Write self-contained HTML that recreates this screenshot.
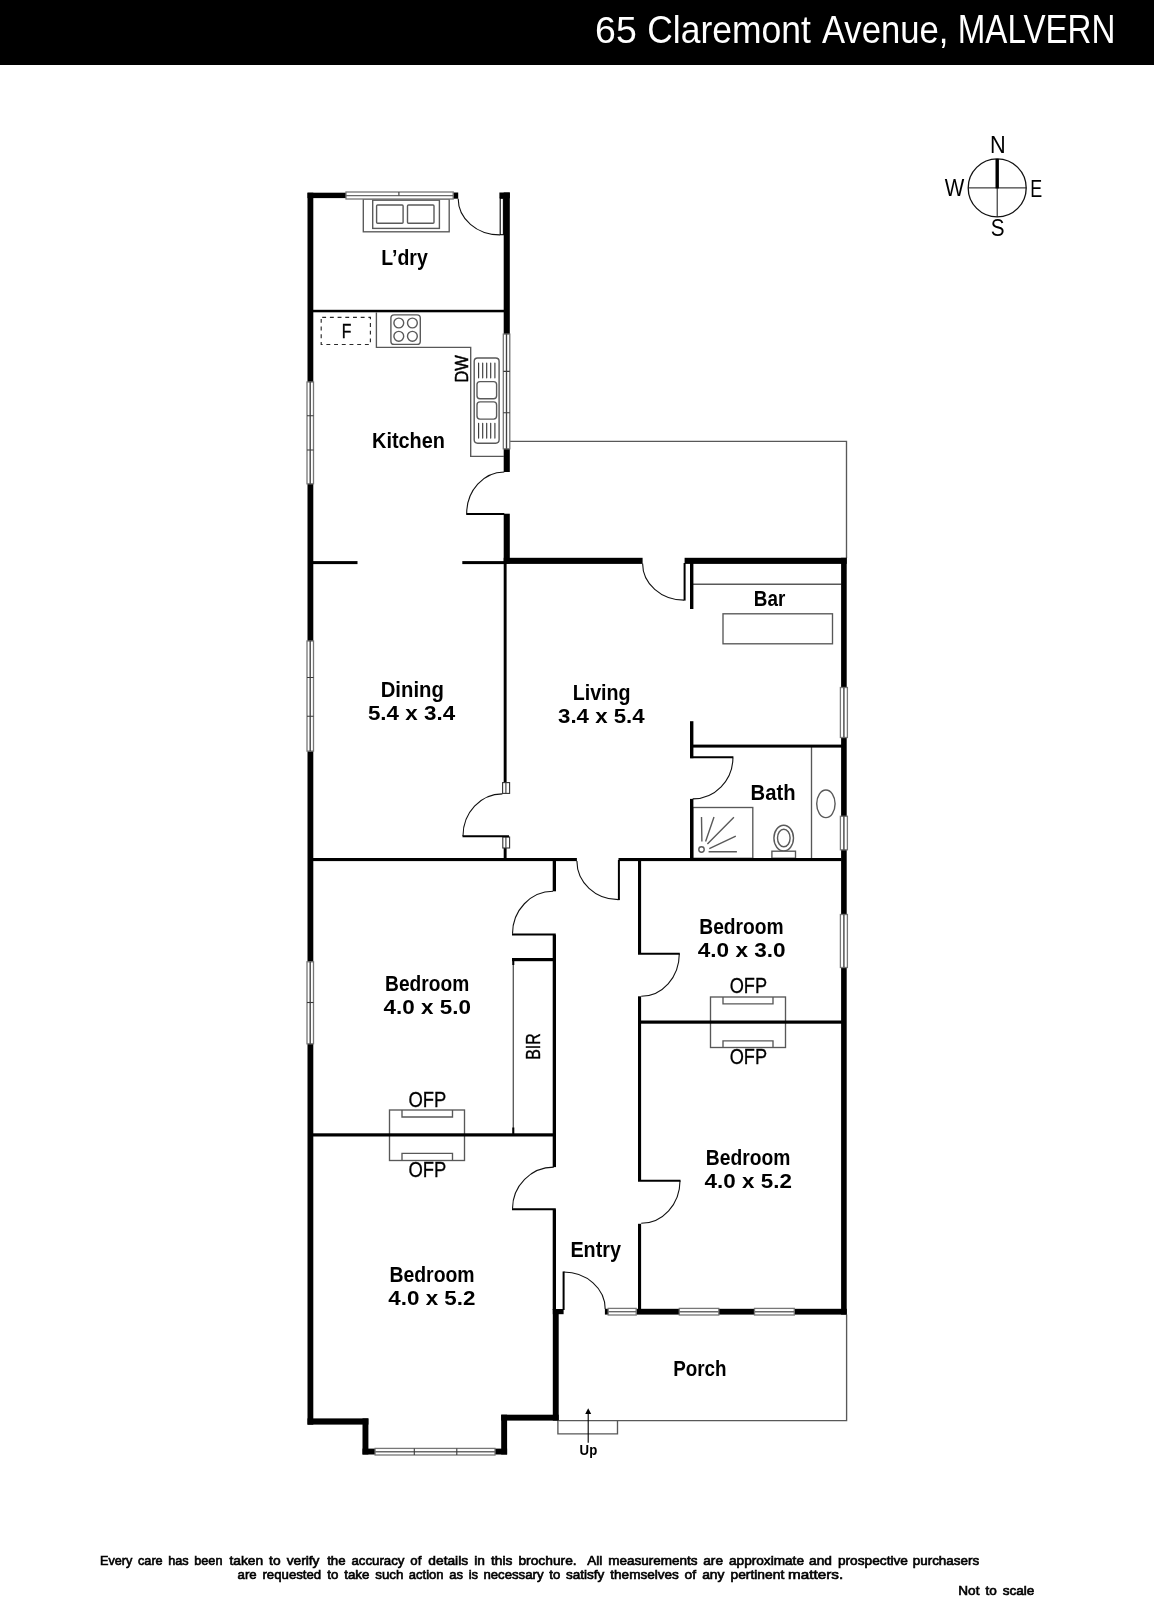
<!DOCTYPE html>
<html>
<head>
<meta charset="utf-8">
<title>65 Claremont Avenue, MALVERN</title>
<style>
html,body{margin:0;padding:0;background:#fff;}
body{width:1154px;height:1600px;overflow:hidden;}
svg{display:block;will-change:transform;}
text{font-family:"Liberation Sans",sans-serif;fill:#000;}
.lbl{font-size:22.4px;font-weight:bold;}
.dim{font-size:22.4px;transform:scaleY(0.9);}
.sm{font-size:22px;stroke:#000;stroke-width:0.3px;}
.hd{fill:#fff;}
.h1{font-size:37.2px;}
.h2{font-size:39.5px;}
.h3{font-size:40.4px;}
.cp{font-size:23.4px;}
.w{fill:#000;}
.t{fill:none;stroke:#585858;stroke-width:1.35;}
.tw{fill:#fff;stroke:#585858;stroke-width:1.35;}
.g{fill:none;stroke:#5a5a5a;stroke-width:1.4;}
.d{fill:none;stroke:#111;stroke-width:1.1;}
.leaf{fill:none;stroke:#000;stroke-width:2;}
.win{fill:#fff;stroke:#777;stroke-width:1.3;}
.wl{fill:none;stroke:#404040;stroke-width:1.35;}
.wlh{stroke:#6a6a6a;}
.wd{fill:none;stroke:#3a3a3a;stroke-width:1.1;}
.ft{font-size:13.6px;stroke:#000;stroke-width:0.65px;word-spacing:2.2px;}
</style>
</head>
<body>
<svg width="1154" height="1600" viewBox="0 0 1154 1600">
<rect x="0" y="0" width="1154" height="1600" fill="#fff"/>

<!-- HEADER -->
<g id="header">
<rect x="0" y="0" width="1154" height="65" fill="#000"/>
<text class="hd h1" x="595.11" y="43.3" textLength="41.67" lengthAdjust="spacingAndGlyphs">65</text>
<text class="hd h2" x="647.23" y="43.3" textLength="163.61" lengthAdjust="spacingAndGlyphs">Claremont</text>
<text class="hd h2" x="821.88" y="43.3" textLength="126.42" lengthAdjust="spacingAndGlyphs">Avenue,</text>
<text class="hd h3" x="957.72" y="43.3" textLength="157.72" lengthAdjust="spacingAndGlyphs">MALVERN</text>
</g>

<!-- COMPASS -->
<g id="compass">
<circle cx="997.2" cy="187.9" r="29" fill="none" stroke="#111" stroke-width="1.3"/>
<line x1="968.2" y1="187.9" x2="1026.2" y2="187.9" stroke="#111" stroke-width="1"/>
<line x1="997.2" y1="187.9" x2="997.2" y2="216.9" stroke="#111" stroke-width="1"/>
<line x1="997.2" y1="158.9" x2="997.2" y2="188.4" stroke="#000" stroke-width="3.4"/>
<text class="cp" x="990.06" y="153.0" textLength="15.68" lengthAdjust="spacingAndGlyphs">N</text>
<text class="cp" x="944.68" y="196.4" textLength="19.54" lengthAdjust="spacingAndGlyphs">W</text>
<text class="cp" x="1030.21" y="196.5" textLength="11.95" lengthAdjust="spacingAndGlyphs">E</text>
<text class="cp" x="990.77" y="236.2" textLength="13.8" lengthAdjust="spacingAndGlyphs">S</text>
</g>

<!-- THIN OUTLINES (patio, porch, step) -->
<g id="outlines" class="t">
<polyline points="509.9,441.4 846.5,441.4 846.5,558"/>
<polyline points="846.6,1314.5 846.6,1420.6 558.7,1420.6"/>
<polyline points="557.9,1420.6 557.9,1433.9 617.5,1433.9 617.5,1420.6"/>
</g>

<!-- BENCHES / FIXTURE OUTLINES -->
<g id="fixtures">
<!-- kitchen bench -->
<polyline class="t" points="376.4,312.6 376.4,347.4 470.7,347.4 470.7,456.4 503.8,456.4"/>
<!-- fridge -->
<rect x="321.2" y="317.3" width="49.2" height="27.2" style="fill:none;stroke:#2a2a2a;stroke-width:1.15;stroke-dasharray:3.9 3.8;stroke-dashoffset:-1"/>
<!-- cooktop -->
<rect class="g" x="390.9" y="314.9" width="29.4" height="29.5" rx="3.2"/>
<circle class="g" cx="398.8" cy="323" r="4.9"/>
<circle class="g" cx="412.4" cy="323" r="4.9"/>
<circle class="g" cx="398.8" cy="336.3" r="4.9"/>
<circle class="g" cx="412.4" cy="336.3" r="4.9"/>
<!-- sink -->
<rect class="g" x="474.2" y="358" width="24.9" height="85.2" rx="3.4"/>
<rect class="g" x="477" y="381.6" width="19.6" height="17.2" rx="3"/>
<rect class="g" x="477" y="401.9" width="19.6" height="17.2" rx="3"/>
<path d="M478.6,363v14.8M482.7,363v14.8M486.7,363v14.8M490.7,363v14.8M494.9,363v14.8" fill="none" stroke="#3a3a3a" stroke-width="1.15" stroke-linecap="round"/>
<path d="M478.6,423.3v14.8M482.7,423.3v14.8M486.7,423.3v14.8M490.7,423.3v14.8M494.9,423.3v14.8" fill="none" stroke="#3a3a3a" stroke-width="1.15" stroke-linecap="round"/>
<!-- laundry tub -->
<rect class="t" x="363.3" y="199" width="85.9" height="32.8" stroke="#484848"/>
<rect class="g" x="372.7" y="200.2" width="66.7" height="28.2" stroke="#3c3c3c"/>
<rect class="g" x="376.6" y="205" width="26.5" height="18.2" rx="1" stroke-width="1.7"/>
<rect class="g" x="407.5" y="205" width="26.5" height="18.2" rx="1" stroke-width="1.7"/>
<!-- bar -->
<line class="t" x1="693" y1="584.2" x2="841.5" y2="584.2"/>
<rect class="t" x="723" y="613.8" width="109.5" height="30"/>
<!-- bath -->
<line class="t" x1="811.5" y1="747" x2="811.5" y2="858.5"/>
<ellipse class="g" cx="825.9" cy="803.8" rx="9.2" ry="13.8" stroke-width="1.3"/>
<rect class="t" x="692.7" y="807.5" width="60.1" height="50.8" stroke-width="1.5"/>
<circle class="g" cx="701.5" cy="849.5" r="2.7" stroke-width="1.3"/>
<path class="g" stroke-width="1.3" d="M701.5,816.9L701.9,841.6M714,816.9L705.6,841.6M733.9,817.3L707.4,843.9M735.8,836.1L709.3,848.7M736.9,851.7L708.6,851.7"/>
<ellipse class="g" cx="783.7" cy="838.1" rx="9.8" ry="12.9" stroke-width="1.4"/>
<ellipse class="g" cx="783.8" cy="838" rx="6.3" ry="8.8" stroke-width="1.4"/>
<rect class="tw" x="771.9" y="851.2" width="23.6" height="7"/>
<!-- OFP bed1/bed4 -->
<rect class="t" x="389.5" y="1110" width="75" height="50.5"/>
<polyline class="t" points="402,1110 402,1117 452.5,1117 452.5,1110"/>
<polyline class="t" points="402,1160.5 402,1153.3 452.5,1153.3 452.5,1160.5"/>
<!-- OFP bed2/bed3 -->
<rect class="t" x="710.5" y="997" width="75" height="50.5"/>
<polyline class="t" points="723,997 723,1003.8 773,1003.8 773,997"/>
<polyline class="t" points="723,1047.5 723,1040.8 773,1040.8 773,1047.5"/>
<!-- BIR -->
<line class="t" x1="513.3" y1="961" x2="513.3" y2="1133.5"/>
</g>

<!-- WALLS -->
<g id="walls" class="w">
<!-- exterior left -->
<rect x="307.5" y="192.7" width="5.8" height="1232"/>
<!-- top wall -->
<rect x="307.5" y="192.7" width="38.5" height="5.4"/>
<rect x="453" y="192.5" width="5.2" height="6.2"/>
<rect x="499.4" y="192.5" width="10.4" height="5.8"/>
<!-- laundry/kitchen right wall -->
<rect x="503.7" y="192.5" width="6.1" height="279.5"/>
<rect x="503.7" y="513.7" width="6.1" height="50"/>
<!-- thick horizontal patio/living -->
<rect x="503.7" y="557.8" width="138.9" height="6.1"/>
<rect x="684.6" y="557.8" width="162.1" height="6.1"/>
<!-- exterior right -->
<rect x="841.1" y="557.8" width="5.6" height="756.8"/>
<!-- bedroom 3 bottom wall -->
<rect x="636.4" y="1308.8" width="210.4" height="5.8"/>
<rect x="604.9" y="1308.8" width="3.4" height="5.8"/>
<!-- entry stub + thick hall wall bottom -->
<rect x="552.8" y="1309" width="10.8" height="5.2"/>
<rect x="552.8" y="1309" width="5.9" height="111.6"/>
<!-- bottom bedroom 4 + bay -->
<rect x="307.5" y="1418.4" width="60.9" height="6.2"/>
<rect x="362.5" y="1418.4" width="5.9" height="36.1"/>
<rect x="362.5" y="1448.6" width="12.6" height="5.9"/>
<rect x="495" y="1448.6" width="12.1" height="5.9"/>
<rect x="501.2" y="1414.7" width="5.9" height="39.8"/>
<rect x="501.2" y="1414.7" width="57.5" height="5.9"/>

<!-- interior thin walls -->
<rect x="313" y="309.8" width="191" height="2.5"/>
<rect x="313" y="561.1" width="44.5" height="3"/>
<rect x="462.3" y="561.1" width="44" height="3"/>
<rect x="503.7" y="563" width="2.9" height="219.5"/>
<rect x="503.7" y="848" width="2.9" height="11"/>
<rect x="313" y="858" width="263.9" height="3.1"/>
<rect x="618.5" y="858" width="223" height="3.1"/>
<rect x="690" y="563" width="3.4" height="46"/>
<rect x="690" y="721.2" width="3.4" height="37"/>
<rect x="690" y="798.9" width="3.4" height="60"/>
<rect x="690" y="744.6" width="152" height="3"/>
<rect x="552.7" y="860" width="3.3" height="31.3"/>
<rect x="552.7" y="935" width="3.3" height="232.1"/>
<rect x="552.7" y="1209.4" width="3.3" height="100.4"/>
<rect x="638" y="860" width="3.1" height="93.8"/>
<rect x="638" y="996.3" width="3.1" height="184.5"/>
<rect x="638" y="1223.8" width="3.1" height="86"/>
<rect x="512" y="958" width="41" height="3.2"/>
<rect x="512.3" y="958" width="2" height="7"/>
<rect x="512.3" y="1127.5" width="2" height="7"/>
<rect x="313" y="1133.3" width="242.8" height="3.2"/>
<rect x="638" y="1020.5" width="204" height="3.2"/>
</g>

<!-- WINDOWS -->
<g id="windows">
<!-- laundry top -->
<rect class="win" x="346" y="192" width="107.2" height="7"/>
<path class="wl wlh" d="M346,195.6h107.2"/>
<path class="wd" d="M398.9,192v3.6"/>
<!-- left wall windows -->
<rect class="win" x="307" y="382" width="6.5" height="101.8"/>
<path class="wl" d="M310.2,382v101.8"/>
<path class="wd" d="M307,415.7h6.5M307,450h6.5"/>
<rect class="win" x="307" y="641" width="6.5" height="110.1"/>
<path class="wl" d="M310.2,641v110.1"/>
<path class="wd" d="M307,677.5h6.5M307,716.2h6.5"/>
<rect class="win" x="307" y="961.8" width="6.5" height="82"/>
<path class="wl" d="M310.2,961.8v82"/>
<path class="wd" d="M307,1002.5h6.5"/>
<!-- kitchen right window -->
<rect class="win" x="503.3" y="334.1" width="6.5" height="114.7"/>
<path class="wl" d="M506.5,334.1v114.7"/>
<path class="wd" d="M503.3,371.4h6.5M503.3,412.7h6.5"/>
<!-- right wall windows -->
<rect class="win" x="840.4" y="687.5" width="7" height="50"/>
<path class="wl" d="M843.9,687.5v50"/>
<rect class="win" x="840.4" y="816.3" width="7" height="33.5"/>
<path class="wl" d="M843.9,816.3v33.5"/>
<rect class="win" x="840.4" y="914.5" width="7" height="53"/>
<path class="wl" d="M843.9,914.5v53"/>
<!-- bedroom 3 bottom windows + sidelight -->
<rect class="win" x="679.3" y="1308.4" width="39.5" height="6.6"/>
<path class="wl wlh" d="M679.3,1311.7h39.5"/>
<rect class="win" x="754.5" y="1308.4" width="39.8" height="6.6"/>
<path class="wl wlh" d="M754.5,1311.7h39.8"/>
<rect class="win" x="608.2" y="1308.4" width="28" height="6.6"/>
<path class="wl wlh" d="M608.2,1311.7h28"/>
<!-- bay window -->
<rect class="win" x="375.1" y="1448.4" width="119.9" height="6.6"/>
<path class="wl wlh" d="M375.1,1451.7h119.9"/>
<path class="wd" d="M414.3,1448.4v6.6M456.8,1448.4v6.6"/>
<!-- door jambs dining/living -->
<rect x="502.6" y="782.6" width="7" height="10.8" style="fill:#fff;stroke:#333;stroke-width:1.1"/>
<line class="wd" x1="505.9" y1="782.5" x2="505.9" y2="793.5"/>
<rect x="502.8" y="837" width="6.8" height="11" style="fill:#fff;stroke:#333;stroke-width:1.1"/>
<line class="wd" x1="505.9" y1="836.7" x2="505.9" y2="848"/>
</g>

<!-- DOORS -->
<g id="doors">
<!-- laundry -->
<path class="d" d="M458.2,198.7A41.7,36.2 0 0 0 499.9,234.9"/>
<rect x="500.2" y="198.3" width="3.2" height="36.4" style="fill:#fff;stroke:#000;stroke-width:1.1"/>
<!-- kitchen/patio -->
<path class="d" d="M504.3,472A37.6,41.5 0 0 0 466.7,513.5"/>
<line class="leaf" x1="466.2" y1="513.9" x2="504.3" y2="513.9"/>
<!-- living/patio -->
<path class="d" d="M642.6,563.5A41.4,36.6 0 0 0 684,600.1"/>
<line class="leaf" x1="684.6" y1="563" x2="684.6" y2="600.6"/>
<!-- bath -->
<path class="d" d="M732.9,757.7A40.2,41.2 0 0 1 692.7,798.9"/>
<line class="leaf" x1="690.2" y1="757.3" x2="733.4" y2="757.3"/>
<!-- dining/living -->
<path class="d" d="M502.4,793.9A39.4,42 0 0 0 463,835.9"/>
<line class="leaf" x1="462.5" y1="836.2" x2="509" y2="836.2"/>
<!-- living/hall -->
<path class="d" d="M576.9,861A41.4,38.6 0 0 0 618.3,899.6"/>
<line class="leaf" x1="618.9" y1="860" x2="618.9" y2="900.1"/>
<!-- bedroom 1 -->
<path class="d" d="M553,891.3A40.5,42.5 0 0 0 512.5,933.8"/>
<line class="leaf" x1="512" y1="934.6" x2="555.8" y2="934.6"/>
<!-- bedroom 2 -->
<path class="d" d="M679.3,953.8A38.1,42.5 0 0 1 641.2,996.3"/>
<line class="leaf" x1="638" y1="953.8" x2="679.8" y2="953.8"/>
<!-- bedroom 4 -->
<path class="d" d="M553.8,1167.1A41.3,41.7 0 0 0 512.5,1208.8"/>
<line class="leaf" x1="512" y1="1209.2" x2="555.8" y2="1209.2"/>
<!-- bedroom 3 -->
<path class="d" d="M680,1180.8A38.8,42.5 0 0 1 641.2,1223.3"/>
<line class="leaf" x1="638" y1="1180.8" x2="680.5" y2="1180.8"/>
<!-- entry -->
<path class="d" d="M563.6,1272A41.6,37 0 0 1 605.2,1309"/>
<line class="leaf" x1="563.6" y1="1271.5" x2="563.6" y2="1310"/>
</g>

<!-- UP ARROW -->
<g id="up">
<line x1="588.2" y1="1411" x2="588.2" y2="1442.7" stroke="#000" stroke-width="1.1"/>
<path d="M588.2,1408.2L591.2,1414H585.2Z" fill="#000"/>
<text x="579.6" y="1454.9" font-size="15.2" font-weight="bold" textLength="17.6" lengthAdjust="spacingAndGlyphs">Up</text>
</g>

<!-- LABELS -->
<g id="labels">
<text class="lbl" x="381.26" y="264.5" textLength="46.52" lengthAdjust="spacingAndGlyphs">L’dry</text>
<text class="lbl" x="372.04" y="448.0" textLength="72.94" lengthAdjust="spacingAndGlyphs">Kitchen</text>
<text class="lbl" x="380.7" y="697.0" textLength="63.2" lengthAdjust="spacingAndGlyphs">Dining</text>
<text class="lbl dim" x="367.92" y="720.3" textLength="87.22" lengthAdjust="spacingAndGlyphs" style="transform-origin:0 720.3px">5.4 x 3.4</text>
<text class="lbl" x="572.67" y="700.0" textLength="57.98" lengthAdjust="spacingAndGlyphs">Living</text>
<text class="lbl dim" x="558.03" y="723.3" textLength="86.63" lengthAdjust="spacingAndGlyphs" style="transform-origin:0 723.3px">3.4 x 5.4</text>
<text class="lbl" x="753.81" y="605.5" textLength="31.45" lengthAdjust="spacingAndGlyphs">Bar</text>
<text class="lbl" x="750.57" y="800.0" textLength="44.97" lengthAdjust="spacingAndGlyphs">Bath</text>
<text class="lbl" x="699.24" y="933.8" textLength="84.49" lengthAdjust="spacingAndGlyphs">Bedroom</text>
<text class="lbl dim" x="697.73" y="957.3" textLength="87.89" lengthAdjust="spacingAndGlyphs" style="transform-origin:0 957.3px">4.0 x 3.0</text>
<text class="lbl" x="385.08" y="990.8" textLength="84.11" lengthAdjust="spacingAndGlyphs">Bedroom</text>
<text class="lbl dim" x="383.5" y="1014.1" textLength="87.46" lengthAdjust="spacingAndGlyphs" style="transform-origin:0 1014.1px">4.0 x 5.0</text>
<text class="lbl" x="705.8" y="1164.5" textLength="84.56" lengthAdjust="spacingAndGlyphs">Bedroom</text>
<text class="lbl dim" x="704.57" y="1187.8" textLength="87.3" lengthAdjust="spacingAndGlyphs" style="transform-origin:0 1187.8px">4.0 x 5.2</text>
<text class="lbl" x="389.41" y="1281.8" textLength="85.23" lengthAdjust="spacingAndGlyphs">Bedroom</text>
<text class="lbl dim" x="388.32" y="1304.8" textLength="87.17" lengthAdjust="spacingAndGlyphs" style="transform-origin:0 1304.8px">4.0 x 5.2</text>
<text class="lbl" x="570.38" y="1256.6" textLength="50.66" lengthAdjust="spacingAndGlyphs">Entry</text>
<text class="lbl" x="673.21" y="1376.3" textLength="53.42" lengthAdjust="spacingAndGlyphs">Porch</text>

<text class="sm" x="729.71" y="993.4" textLength="37.38" lengthAdjust="spacingAndGlyphs">OFP</text>
<text class="sm" x="729.71" y="1064.2" textLength="37.38" lengthAdjust="spacingAndGlyphs">OFP</text>
<text class="sm" x="408.52" y="1106.7" textLength="37.87" lengthAdjust="spacingAndGlyphs">OFP</text>
<text class="sm" x="408.52" y="1176.7" textLength="37.87" lengthAdjust="spacingAndGlyphs">OFP</text>
<text x="341.8" y="337.5" font-size="20.5" textLength="9.6" lengthAdjust="spacingAndGlyphs" stroke="#000" stroke-width="0.4">F</text>
<text transform="translate(468.3,382.5) rotate(-90)" font-size="19" textLength="27.3" lengthAdjust="spacingAndGlyphs" stroke="#000" stroke-width="0.5">DW</text>
<text transform="translate(540,1059.8) rotate(-90)" font-size="21" textLength="26.5" lengthAdjust="spacingAndGlyphs" stroke="#000" stroke-width="0.4">BIR</text>
</g>

<!-- FOOTER -->
<g id="footer">
<text class="ft" x="100.02" y="1565.3" textLength="122.41" lengthAdjust="spacingAndGlyphs">Every care has been</text>
<text class="ft" x="229.45" y="1565.3" textLength="90.05" lengthAdjust="spacingAndGlyphs">taken to verify</text>
<text class="ft" x="327.19" y="1565.3" textLength="94.18" lengthAdjust="spacingAndGlyphs">the accuracy of</text>
<text class="ft" x="428.32" y="1565.3" textLength="148.34" lengthAdjust="spacingAndGlyphs">details in this brochure.</text>
<text class="ft" x="587.34" y="1565.3" textLength="110.19" lengthAdjust="spacingAndGlyphs">All measurements</text>
<text class="ft" x="703.29" y="1565.3" textLength="100.72" lengthAdjust="spacingAndGlyphs">are approximate</text>
<text class="ft" x="809.07" y="1565.3" textLength="98.92" lengthAdjust="spacingAndGlyphs">and prospective</text>
<text class="ft" x="912.76" y="1565.3" textLength="66.35" lengthAdjust="spacingAndGlyphs">purchasers</text>
<text class="ft" x="237.59" y="1579.4" textLength="83.62" lengthAdjust="spacingAndGlyphs">are requested</text>
<text class="ft" x="327.24" y="1579.4" textLength="76.21" lengthAdjust="spacingAndGlyphs">to take such</text>
<text class="ft" x="408.84" y="1579.4" textLength="69.2" lengthAdjust="spacingAndGlyphs">action as is</text>
<text class="ft" x="483.41" y="1579.4" textLength="76.94" lengthAdjust="spacingAndGlyphs">necessary to</text>
<text class="ft" x="566.04" y="1579.4" textLength="112.73" lengthAdjust="spacingAndGlyphs">satisfy themselves</text>
<text class="ft" x="684.56" y="1579.4" textLength="99.72" lengthAdjust="spacingAndGlyphs">of any pertinent</text>
<text class="ft" x="788.11" y="1579.4" textLength="55.02" lengthAdjust="spacingAndGlyphs">matters.</text>
<text class="ft" x="958.32" y="1595.4" textLength="76.08" lengthAdjust="spacingAndGlyphs">Not to scale</text>
</g>
</svg>
</body>
</html>
